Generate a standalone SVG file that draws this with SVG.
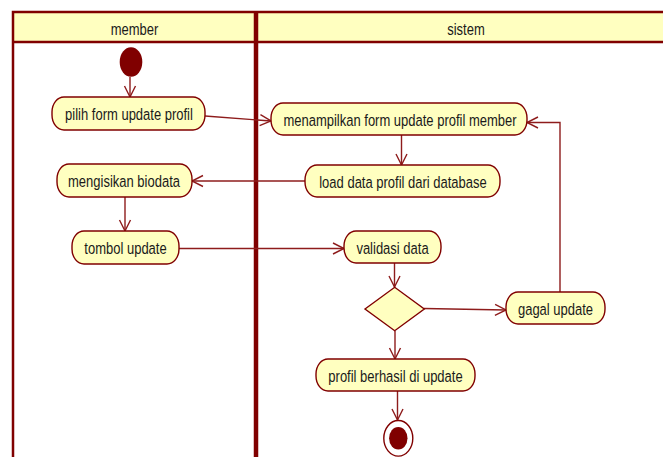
<svg xmlns="http://www.w3.org/2000/svg" width="663" height="457" viewBox="0 0 663 457">
  <style>
    .lane { fill: #ffffff; stroke: none; }
    .head { fill: #ffffc0; stroke: none; }
    .frame { stroke: #800000; stroke-width: 2.5; fill: none; }
    .divider { stroke: #800000; stroke-width: 4.5; fill: none; }
    .act { fill: #ffffc0; stroke: #800000; stroke-width: 1.4; }
    .lbl { font-family: "Liberation Sans", Arial, sans-serif; font-size: 13px; fill: #1a1a1a; text-anchor: middle; }
    .edge { stroke: #8e1c1c; stroke-width: 1.4; fill: none; marker-end: url(#open); }
    .solid { fill: #800000; stroke: none; }
  </style>
  <defs>
    <marker id="open" markerUnits="userSpaceOnUse" markerWidth="14" markerHeight="14" viewBox="0 0 14 14" refX="12" refY="7" orient="auto">
      <path d="M1,1.5 L12,7 L1,12.5" fill="none" stroke="#8e1c1c" stroke-width="1.4"/>
    </marker>
  </defs>

  <rect x="0" y="0" width="663" height="457" fill="#ffffff"/>

  <!-- swimlanes -->
  <g id="lanes">
    <rect class="head" x="13" y="12" width="660" height="30"/>
    <path class="frame" d="M13,457 V12 H670"/>
    <path class="frame" d="M13,42 H670"/>
    <path class="divider" d="M256,12 V457"/>
    <text class="lbl" transform="translate(134.5,35) scale(1,1.3)">member</text>
    <text class="lbl" transform="translate(466,35) scale(1,1.3)">sistem</text>
  </g>

  <!-- connectors -->
  <g id="connectors">
    <path class="edge" d="M130,77 V97"/>
    <path class="edge" d="M205,116 L271,121"/>
    <path class="edge" d="M401.5,135 V165"/>
    <path class="edge" d="M305,181 H192"/>
    <path class="edge" d="M125,197 V231"/>
    <path class="edge" d="M179,248.5 H344"/>
    <path class="edge" d="M394.5,263 V287"/>
    <path class="edge" d="M424,308.5 L506,310"/>
    <path class="edge" d="M560,292 V122.5 H527"/>
    <path class="edge" d="M395,331 V359"/>
    <path class="edge" d="M397.5,391 V420"/>
  </g>

  <!-- nodes -->
  <g id="start">
    <ellipse class="solid" cx="131" cy="62" rx="11.3" ry="14.7"/>
  </g>
  <g id="pilih-form">
    <rect class="act" x="52" y="97" width="153" height="33" rx="12" ry="15"/>
    <text class="lbl" transform="translate(129,120.3) scale(1,1.3)">pilih form update profil</text>
  </g>
  <g id="menampilkan-form">
    <rect class="act" x="271" y="103" width="256" height="32" rx="12" ry="15"/>
    <text class="lbl" transform="translate(400,125.8) scale(1,1.3)">menampilkan form update profil member</text>
  </g>
  <g id="load-data">
    <rect class="act" x="305" y="165" width="195" height="32" rx="12" ry="15"/>
    <text class="lbl" transform="translate(403,187.8) scale(1,1.3)">load data profil dari database</text>
  </g>
  <g id="mengisikan-biodata">
    <rect class="act" x="57" y="164" width="135" height="33" rx="12" ry="15"/>
    <text class="lbl" transform="translate(124,187.3) scale(1,1.3)">mengisikan biodata</text>
  </g>
  <g id="tombol-update">
    <rect class="act" x="72" y="231" width="107" height="33" rx="12" ry="15"/>
    <text class="lbl" transform="translate(125.5,254.3) scale(1,1.3)">tombol update</text>
  </g>
  <g id="validasi-data">
    <rect class="act" x="344" y="231" width="97" height="32" rx="12" ry="15"/>
    <text class="lbl" transform="translate(392.5,253.8) scale(1,1.3)">validasi data</text>
  </g>
  <g id="decision">
    <polygon class="act" points="365,309 394.7,287.3 424.3,309 394.7,330.7"/>
  </g>
  <g id="gagal-update">
    <rect class="act" x="506" y="292" width="99" height="32" rx="12" ry="15"/>
    <text class="lbl" transform="translate(555.5,314.8) scale(1,1.3)">gagal update</text>
  </g>
  <g id="profil-berhasil">
    <rect class="act" x="316" y="359" width="159" height="32" rx="12" ry="15"/>
    <text class="lbl" transform="translate(395.5,381.8) scale(1,1.3)">profil berhasil di update</text>
  </g>
  <g id="end">
    <ellipse cx="398.3" cy="438.3" rx="14.5" ry="17.8" fill="#ffffff" stroke="#800000" stroke-width="1.4"/>
    <ellipse class="solid" cx="398.3" cy="438.3" rx="9.2" ry="11.3"/>
  </g>
</svg>
